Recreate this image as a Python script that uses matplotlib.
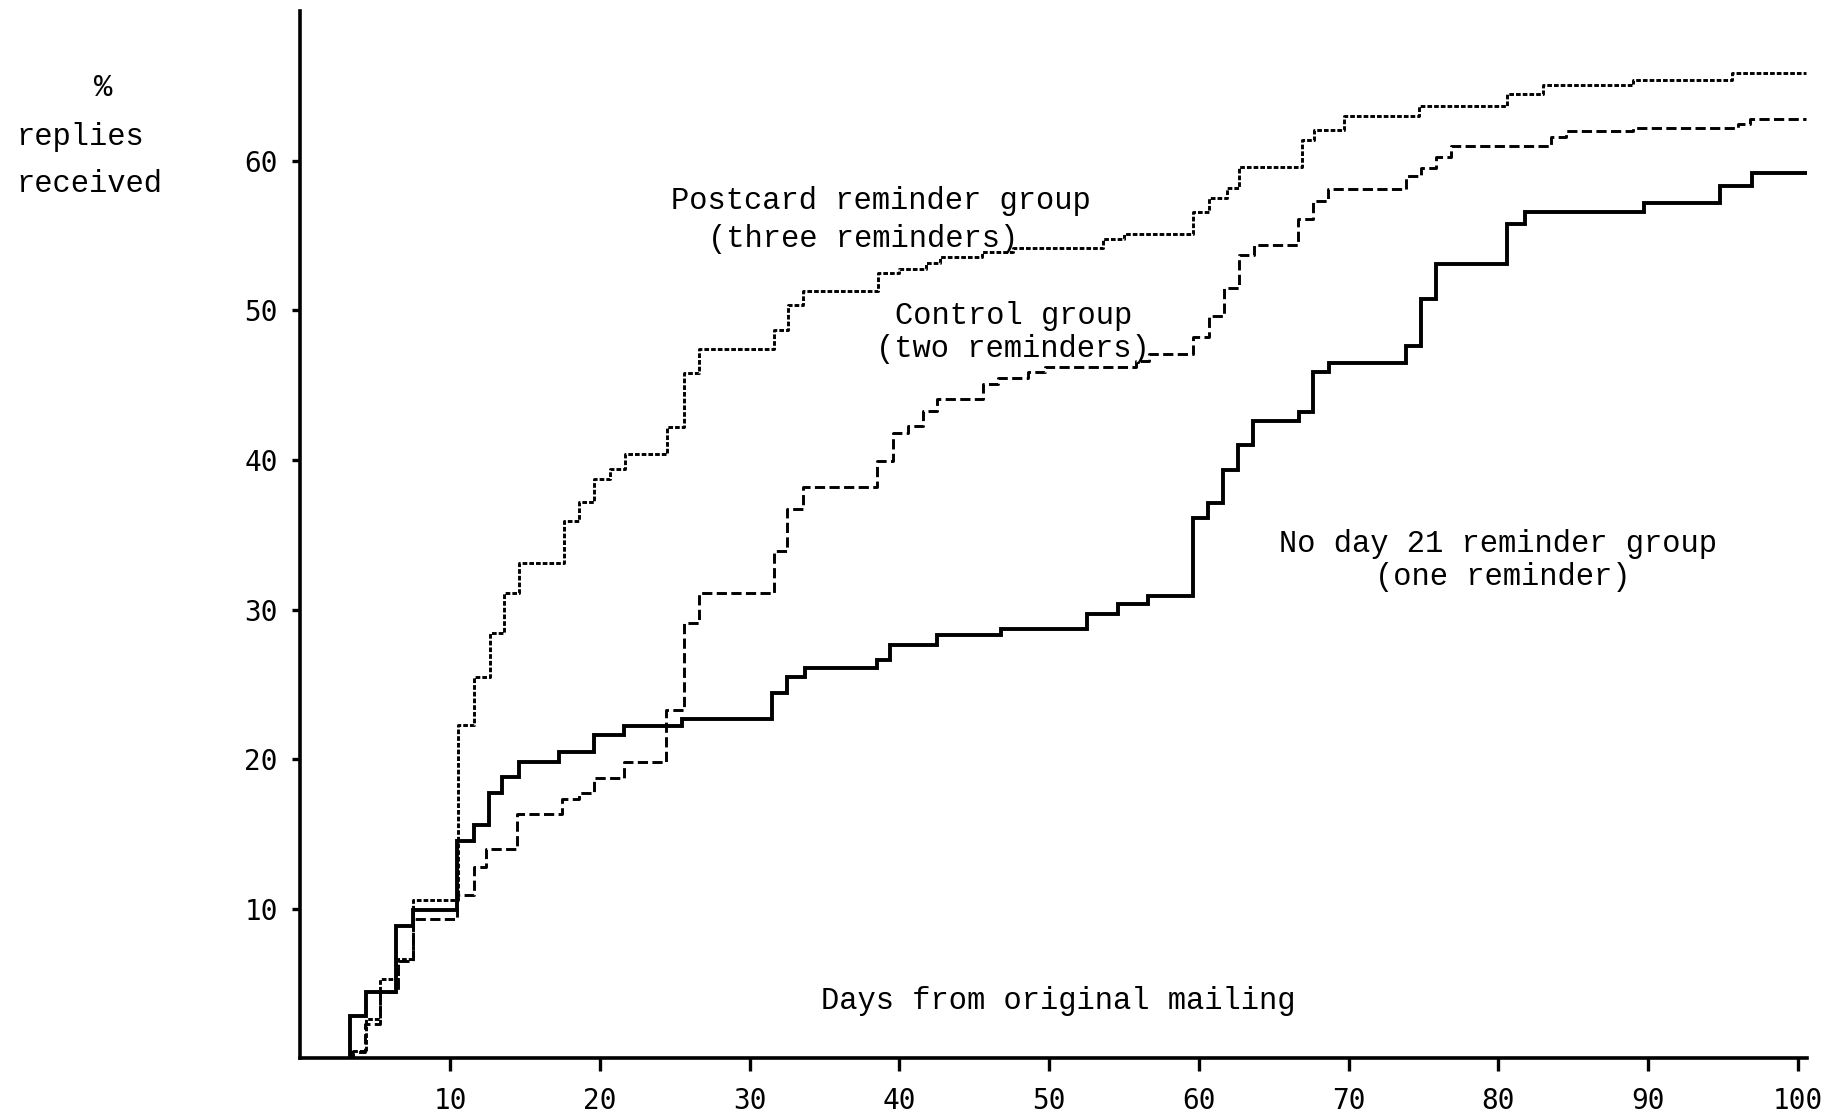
"""Cumulative reply curves for the three reminder groups (typewriter-style figure)."""

import glob

import matplotlib

matplotlib.use("Agg")
import matplotlib.pyplot as plt
from matplotlib import font_manager

# Step curves: day on which the cumulative % of replies rises, and the new level.
postcard_days = [3.5, 4.4, 5.3, 6.5, 7.5, 10.55, 11.6, 12.7, 13.6, 14.6, 17.6, 18.6,
                 19.6, 20.7, 21.7, 24.5, 25.6, 26.6, 31.6, 32.6, 33.6, 38.6, 40.0,
                 41.8, 42.7, 45.5, 47.6, 53.6, 55.0, 59.6, 60.7, 61.9, 62.7, 66.9,
                 67.7, 69.7, 74.7, 80.6, 83.0, 89.0, 95.6]
postcard_pct = [0.5, 2.6, 5.3, 6.6, 10.6, 22.3, 25.5, 28.4, 31.1, 33.1, 35.9, 37.2,
                38.7, 39.4, 40.4, 42.2, 45.8, 47.4, 48.7, 50.4, 51.3, 52.5, 52.8,
                53.2, 53.6, 53.9, 54.2, 54.8, 55.1, 56.6, 57.5, 58.2, 59.6, 61.4,
                62.1, 63.0, 63.7, 64.5, 65.1, 65.4, 65.9]

control_days = [3.3, 4.3, 5.3, 6.5, 7.5, 10.5, 11.6, 12.4, 14.5, 17.5, 18.6, 19.6,
                21.6, 24.4, 25.6, 26.6, 31.6, 32.5, 33.6, 38.5, 39.6, 40.6, 41.6,
                42.5, 45.6, 46.6, 48.6, 49.7, 55.8, 56.7, 59.6, 60.7, 61.7, 62.7,
                63.7, 66.6, 67.6, 68.6, 73.8, 74.8, 75.8, 76.8, 83.5, 84.5, 89.0,
                96.0, 96.8]
control_pct = [0.4, 2.3, 4.4, 6.5, 9.3, 10.9, 12.8, 14.0, 16.3, 17.3, 17.7, 18.7,
               19.8, 23.3, 29.1, 31.1, 33.9, 36.7, 38.2, 39.9, 41.8, 42.3, 43.3,
               44.1, 45.1, 45.5, 45.9, 46.2, 46.6, 47.1, 48.2, 49.6, 51.5, 53.7,
               54.4, 56.1, 57.3, 58.1, 59.0, 59.5, 60.3, 61.0, 61.6, 62.0, 62.2,
               62.5, 62.8]

one_days = [3.3, 4.4, 6.4, 7.5, 10.5, 11.6, 12.6, 13.5, 14.6, 17.3, 19.6, 21.6,
            25.5, 31.5, 32.5, 33.7, 38.5, 39.4, 42.5, 46.8, 52.5, 54.6, 56.6, 59.6,
            60.6, 61.6, 62.6, 63.6, 66.7, 67.6, 68.7, 73.8, 74.8, 75.8, 80.6, 81.8,
            89.7, 94.8, 96.9]
one_pct = [2.8, 4.4, 8.8, 9.9, 14.5, 15.6, 17.7, 18.8, 19.8, 20.5, 21.6, 22.2,
           22.7, 24.4, 25.5, 26.1, 26.6, 27.6, 28.3, 28.7, 29.7, 30.4, 30.9, 36.1,
           37.1, 39.3, 41.0, 42.6, 43.2, 45.9, 46.5, 47.6, 50.8, 53.1, 55.8, 56.6,
           57.2, 58.3, 59.2]

END_DAY = 100.5
x_ticks = [10, 20, 30, 40, 50, 60, 70, 80, 90, 100]
y_ticks = [10, 20, 30, 40, 50, 60]


def _mono_font(size):
    # Courier-like face for the typed labels; look for the file directly,
    # then through the font manager, and fall back to DejaVu Sans Mono.
    patterns = ["/usr/share/fonts/**/LiberationMono-Regular.ttf",
                "/usr/share/fonts/**/cour.ttf",
                "/usr/share/fonts/**/NimbusMonoPS-Regular.*",
                "/usr/share/fonts/**/FreeMono.*",
                "/usr/local/share/fonts/**/LiberationMono-Regular.ttf",
                "/usr/**/LiberationMono-Regular.ttf"]
    for pat in patterns:
        hits = glob.glob(pat, recursive=True)
        if hits:
            return font_manager.FontProperties(fname=hits[0], size=size)
    for entry in font_manager.fontManager.ttflist:
        name = entry.name.lower()
        if ("liberation mono" in name or "courier" in name or "nimbus mono" in name
                or "freemono" in name) and entry.style == "normal":
            return font_manager.FontProperties(fname=entry.fname, size=size)
    return font_manager.FontProperties(family="DejaVu Sans Mono", size=size)


def _step_series(days, pct):
    # start on the axis, hold the last level up to the end of the window
    xs = [days[0]] + list(days) + [END_DAY]
    ys = [0.0] + list(pct) + [pct[-1]]
    return xs, ys


type_font = _mono_font(22)
tick_font = font_manager.FontProperties(family="DejaVu Sans Mono", size=20)

fig = plt.figure(figsize=(18.26, 11.15), dpi=100)
ax = fig.add_axes([0.1644, 0.0511, 0.8252, 0.9386])
ax.set_xlim(0, 100.6)
ax.set_ylim(0, 70)

xs, ys = _step_series(postcard_days, postcard_pct)
ax.step(xs, ys, where="post", color="black", lw=2.1, linestyle=(0, (1.6, 0.7)))
xs, ys = _step_series(control_days, control_pct)
ax.step(xs, ys, where="post", color="black", lw=2.1, linestyle=(0, (3.5, 1.5)))
xs, ys = _step_series(one_days, one_pct)
ax.step(xs, ys, where="post", color="black", lw=2.8, solid_joinstyle="miter")

for side in ("top", "right"):
    ax.spines[side].set_visible(False)
for side in ("left", "bottom"):
    ax.spines[side].set_linewidth(2.6)
    ax.spines[side].set_color("black")

ax.set_xticks(x_ticks)
ax.set_yticks(y_ticks)
ax.set_xticklabels([str(t) for t in x_ticks], fontproperties=tick_font)
ax.set_yticklabels([str(t) for t in y_ticks], fontproperties=tick_font)
ax.tick_params(axis="x", direction="out", length=9, width=2.4, pad=12)
ax.tick_params(axis="y", direction="out", length=6, width=2.4, pad=10)

label_kw = dict(fontproperties=type_font, color="black", ha="center", va="center")
ax.text(38.8, 57.3, "Postcard reminder group", **label_kw)
ax.text(37.6, 54.8, "(three reminders)", **label_kw)
ax.text(47.6, 49.6, "Control group", **label_kw)
ax.text(47.6, 47.4, "(two reminders)", **label_kw)
ax.text(80.0, 34.4, "No day 21 reminder group", **label_kw)
ax.text(80.3, 32.2, "(one reminder)", **label_kw)
ax.text(50.6, 3.8, "Days from original mailing", **label_kw)

fig.text(0.0564, 0.9215, "%", fontproperties=type_font, ha="center", va="center")
fig.text(0.0088, 0.877, "replies", fontproperties=type_font, ha="left", va="center")
fig.text(0.0088, 0.835, "received", fontproperties=type_font, ha="left", va="center")

fig.savefig("out.png", dpi=100, facecolor="white")
plt.close(fig)
